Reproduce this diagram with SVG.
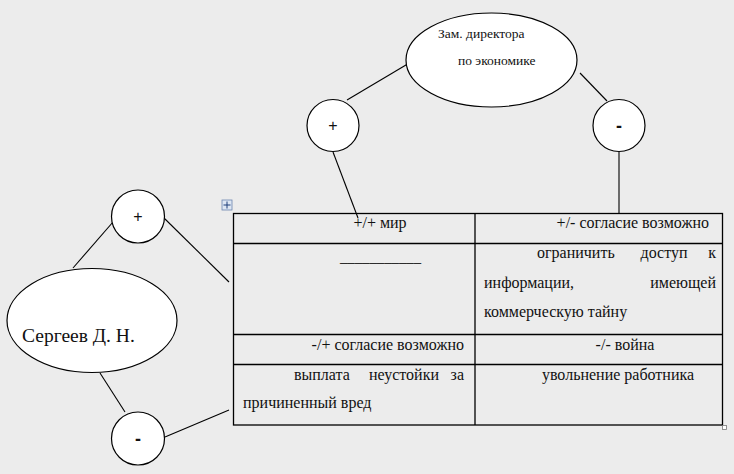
<svg xmlns="http://www.w3.org/2000/svg" width="734" height="474" viewBox="0 0 734 474">
<rect fill="#ececec" x="0" y="0" width="734" height="474"/>
<g id="connectors" stroke="#000" stroke-width="1.1" fill="none">
<line x1="411" y1="62" x2="347" y2="100"/>
<line x1="580" y1="73" x2="607" y2="101"/>
<line x1="333" y1="152" x2="358" y2="218"/>
<line x1="619" y1="152" x2="619" y2="213"/>
<line x1="113" y1="222" x2="73" y2="268"/>
<line x1="164" y1="218" x2="229" y2="282"/>
<line x1="100" y1="373" x2="125" y2="412"/>
<line x1="165" y1="437" x2="229" y2="410"/>
</g>
<g id="node-zam">
<ellipse fill="#fff" stroke="#000" stroke-width="1.2" cx="491.5" cy="60" rx="85.5" ry="47"/>
<text font-family="Liberation Serif" font-size="13.5" fill="#111" x="438" y="38">Зам. директора</text>
<text font-family="Liberation Serif" font-size="13.5" fill="#111" x="458" y="65">по экономике</text>
</g>
<g id="node-top-plus">
<circle fill="#fff" stroke="#000" stroke-width="1.2" cx="333" cy="125.5" r="26"/>
<text font-family="Liberation Sans" font-size="16" fill="#111" text-anchor="middle" x="333" y="131">+</text>
</g>
<g id="node-top-minus">
<circle fill="#fff" stroke="#000" stroke-width="1.2" cx="619" cy="125.5" r="26"/>
<text font-family="Liberation Sans" font-size="18" font-weight="bold" fill="#111" text-anchor="middle" x="619" y="132">-</text>
</g>
<g id="node-sergeev">
<ellipse fill="#fff" stroke="#000" stroke-width="1.2" cx="92" cy="320.5" rx="85" ry="52"/>
<text font-family="Liberation Serif" font-size="19.5" fill="#111" x="22" y="342">Сергеев Д. Н.</text>
</g>
<g id="node-left-plus">
<circle fill="#fff" stroke="#000" stroke-width="1.2" cx="138" cy="216.5" r="26.5"/>
<text font-family="Liberation Sans" font-size="16" fill="#111" text-anchor="middle" x="138" y="222">+</text>
</g>
<g id="node-left-minus">
<circle fill="#fff" stroke="#000" stroke-width="1.2" cx="138" cy="438.5" r="26.5"/>
<text font-family="Liberation Sans" font-size="18" font-weight="bold" fill="#111" text-anchor="middle" x="138" y="445">-</text>
</g>
<g id="table">
<g stroke="#000" stroke-width="1.3" fill="none">
<rect x="233.5" y="213.5" width="489" height="211.5"/>
<line x1="475" y1="213.5" x2="475" y2="425"/>
<line x1="233.5" y1="243.5" x2="722.5" y2="243.5"/>
<line x1="233.5" y1="334.5" x2="722.5" y2="334.5"/>
<line x1="233.5" y1="364.5" x2="722.5" y2="364.5"/>
</g>
<g id="table-handles">
<rect x="222" y="200" width="10" height="10" fill="#dde6f3" stroke="#6d86b0" stroke-width="0.8"/>
<path d="M227 201.5v7M223.5 205h7" stroke="#1f3f7a" stroke-width="1"/>
<rect x="722.5" y="425.5" width="4" height="4" fill="#fff" stroke="#777" stroke-width="0.8"/>
</g>
<text font-family="Liberation Serif" font-size="16" fill="#111" text-anchor="middle" x="380" y="228">+/+ мир</text>
<text font-family="Liberation Serif" font-size="16" fill="#111" x="340" y="262" textLength="81" lengthAdjust="spacingAndGlyphs">___________</text>
<text font-family="Liberation Serif" font-size="16" fill="#111" text-anchor="end" x="464" y="350">-/+ согласие возможно</text>
<text font-family="Liberation Serif" font-size="16" fill="#111" x="294" y="380">выплата</text>
<text font-family="Liberation Serif" font-size="16" fill="#111" text-anchor="middle" x="404" y="380">неустойки</text>
<text font-family="Liberation Serif" font-size="16" fill="#111" text-anchor="end" x="464" y="380">за</text>
<text font-family="Liberation Serif" font-size="16" fill="#111" x="243" y="408">причиненный вред</text>
<text font-family="Liberation Serif" font-size="16" fill="#111" text-anchor="end" x="709" y="228">+/- согласие возможно</text>
<text font-family="Liberation Serif" font-size="16" fill="#111" x="537" y="258">ограничить</text>
<text font-family="Liberation Serif" font-size="16" fill="#111" text-anchor="middle" x="664" y="258">доступ</text>
<text font-family="Liberation Serif" font-size="16" fill="#111" text-anchor="end" x="716" y="258">к</text>
<text font-family="Liberation Serif" font-size="16" fill="#111" x="484" y="288">информации,</text>
<text font-family="Liberation Serif" font-size="16" fill="#111" text-anchor="end" x="716" y="288">имеющей</text>
<text font-family="Liberation Serif" font-size="16" fill="#111" x="484" y="317">коммерческую тайну</text>
<text font-family="Liberation Serif" font-size="16" fill="#111" text-anchor="middle" x="625" y="350">-/- война</text>
<text font-family="Liberation Serif" font-size="16" fill="#111" text-anchor="middle" x="618" y="380">увольнение работника</text>
</g>
</svg>
